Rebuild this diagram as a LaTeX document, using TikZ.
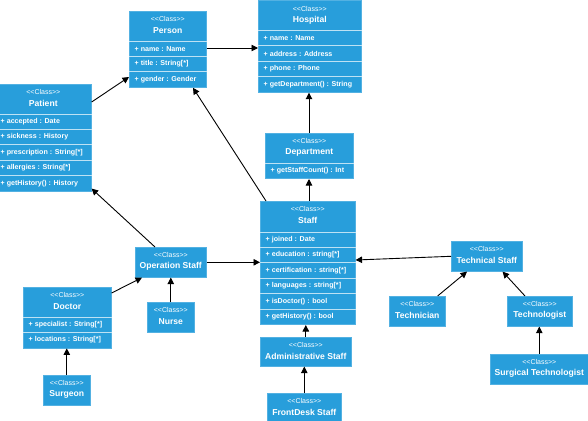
\documentclass[tikz,border=0pt]{standalone}
\usepackage{fontspec}
\setmainfont{Liberation Sans}
\usetikzlibrary{calc,arrows.meta}
\definecolor{clsfill}{RGB}{40,158,219}
\newcommand{\stereo}{<\kern0pt<Class>\kern0pt>}
\newcommand{\umlhead}[2]{%
  \node[ster] (#1-s) at ($(#1.north)+(0,-8.3)$) {\stereo};
  \node[ttl] (#1-t) at ($(#1.north)+(0,-19.5)$) {#2};}
\newcommand{\umlrows}[3]{%
  \foreach \r [count=\i] in {#3} {%
    \draw[sep] ($(#1.north west)+(0,{-#2-(\i-1)*15.4})$) -- ($(#1.north east)+(0,{-#2-(\i-1)*15.4})$);
    \node[attr] (#1-r\i) at ($(#1.north west)+(5.5,{-#2-(\i-0.5)*15.4})$) {\r};
  }}
\tikzset{
  cls/.style={rectangle, draw=clsfill!80!white, line width=0.6pt, fill=clsfill, inner sep=0pt, anchor=north west},
  ster/.style={text=white, font=\fontsize{7}{8}\selectfont, inner sep=0pt},
  ttl/.style={text=white, font=\bfseries\fontsize{8.6}{10}\selectfont, inner sep=0pt},
  attr/.style={text=white, font=\bfseries\fontsize{7.1}{8}\selectfont, anchor=west, inner sep=0pt},
  sep/.style={draw=white!70!clsfill, line width=0.8pt},
  conn/.style={draw=black, line width=0.9pt, -{Triangle[length=6.5pt,width=6.5pt]}}
}
\begin{document}
\begin{tikzpicture}[x=1pt,y=1pt]
\fill[white] (0,0) rectangle (588,-420);
\useasboundingbox (0,0) rectangle (588,-420);
\clip (0,0) rectangle (588,-420);

% Person
\node[cls, minimum width=77, minimum height=76.2] (person) at (129,-11) {};
\umlhead{person}{Person}
\umlrows{person}{30}{{+ name : Name},{+ title : String[*]},{+ gender : Gender}}

% Hospital
\node[cls, minimum width=103, minimum height=91.6] (hospital) at (258,-0.5) {};
\umlhead{hospital}{Hospital}
\umlrows{hospital}{30}{{+ name : Name},{+ address : Address},{+ phone : Phone},{+ getDepartment() : String}}

% Patient
\node[cls, minimum width=96, minimum height=107] (patient) at (-5,-84) {};
\umlhead{patient}{Patient}
\umlrows{patient}{30}{{+ accepted : Date},{+ sickness : History},{+ prescription : String[*]},{+ allergies : String[*]},{+ getHistory() : History}}

% Department
\node[cls, minimum width=88, minimum height=45.4] (department) at (265,-133) {};
\umlhead{department}{Department}
\umlrows{department}{30}{{+ getStaffCount() : Int}}

% Staff
\node[cls, minimum width=95, minimum height=123.4] (staff) at (260,-201) {};
\umlhead{staff}{Staff}
\umlrows{staff}{31}{{+ joined : Date},{+ education : string[*]},{+ certification : string[*]},{+ languages : string[*]},{+ isDoctor() : bool},{+ getHistory() : bool}}

% Doctor
\node[cls, minimum width=88, minimum height=60.8] (doctor) at (23,-287) {};
\umlhead{doctor}{Doctor}
\umlrows{doctor}{30}{{+ specialist : String[*]},{+ locations : String[*]}}

% Simple classes
\node[cls, minimum width=71, minimum height=30] (opstaff) at (135,-247) {};
\umlhead{opstaff}{Operation Staff}
\node[cls, minimum width=47, minimum height=30] (nurse) at (147,-302) {};
\umlhead{nurse}{Nurse}
\node[cls, minimum width=47, minimum height=30] (surgeon) at (43,-375) {};
\umlhead{surgeon}{Surgeon}
\node[cls, minimum width=71, minimum height=30] (techstaff) at (451,-241) {};
\umlhead{techstaff}{Technical Staff}
\node[cls, minimum width=56, minimum height=30] (technician) at (389,-296) {};
\umlhead{technician}{Technician}
\node[cls, minimum width=65, minimum height=30] (technologist) at (507,-296) {};
\umlhead{technologist}{Technologist}
\node[cls, minimum width=98, minimum height=30] (surgtech) at (490,-354) {};
\umlhead{surgtech}{Surgical Technologist}
\node[cls, minimum width=91, minimum height=29] (admin) at (260,-337) {};
\umlhead{admin}{Administrative Staff}
\node[cls, minimum width=74, minimum height=30] (frontdesk) at (267,-393) {};
\umlhead{frontdesk}{FrontDesk Staff}

% Connectors
\draw[conn] ($(patient.north east)+(0,-18)$) -- ($(person.north west)+(0,-66)$);
\draw[conn] ($(person.north east)+(0,-37)$) -- ($(hospital.north west)+(0,-47.5)$);
\draw[conn] ($(department.north west)+(44,0)$) -- ($(hospital.south west)+(51,0)$);
\draw[conn] ($(staff.north west)+(49,0)$) -- ($(department.south west)+(44,0)$);
\draw[conn] ($(staff.north west)+(6,0)$) -- ($(person.south west)+(64,0)$);
\draw[conn] ($(opstaff.north west)+(20,0)$) -- ($(patient.south east)+(0,3)$);
\draw[conn] (opstaff.east) -- (opstaff.east -| staff.west);
\draw[conn] (techstaff.west) -- ($(staff.north east)+(0,-59)$);
\draw[conn] ($(doctor.north east)+(0,-6)$) -- ($(opstaff.south west)+(7,0)$);
\draw[conn] (nurse.north) -- (nurse.north |- opstaff.south);
\draw[conn] (surgeon.north) -- (surgeon.north |- doctor.south);
\draw[conn] ($(technician.north east)+(-8,0)$) -- ($(techstaff.south west)+(16,0)$);
\draw[conn] ($(technologist.north west)+(18,0)$) -- ($(techstaff.south east)+(-20,0)$);
\draw[conn] (surgtech.north) -- (surgtech.north |- technologist.south);
\draw[conn] (admin.north) -- (admin.north |- staff.south);
\draw[conn] (frontdesk.north) -- (frontdesk.north |- admin.south);
\end{tikzpicture}
\end{document}
